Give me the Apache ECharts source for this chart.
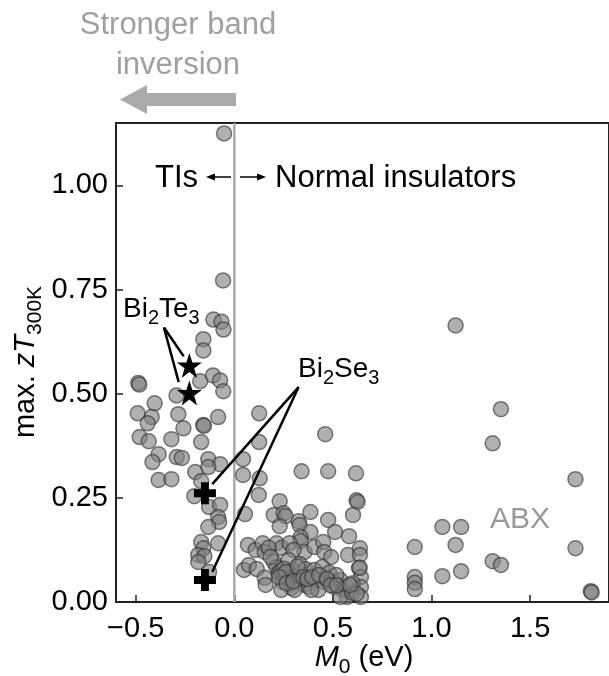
<!DOCTYPE html>
<html><head><meta charset="utf-8">
<script src="https://cdn.jsdelivr.net/npm/echarts@6/dist/echarts.min.js"></script>
<style>html,body{margin:0;padding:0;background:#fff}#c{width:609px;height:676px}</style>
</head><body><div id="c"></div>
<script>
// ---- data ----
const xTicks = [-0.5, 0.0, 0.5, 1.0, 1.5];
const yTicks = [0.00, 0.25, 0.50, 0.75, 1.00];
// topological insulators (M0 < 0)
const tiPoints = [
 [-0.052,1.125],[-0.057,0.772],[-0.106,0.678],[-0.065,0.673],[-0.055,0.654],[-0.157,0.631],[-0.157,0.604],
 [-0.487,0.526],[-0.482,0.522],[-0.173,0.530],[-0.108,0.544],[-0.072,0.532],[-0.056,0.506],[-0.293,0.496],
 [-0.404,0.477],[-0.490,0.453],[-0.419,0.444],[-0.439,0.429],[-0.284,0.451],[-0.082,0.444],[-0.158,0.425],
 [-0.154,0.423],[-0.258,0.417],[-0.480,0.396],[-0.434,0.386],[-0.319,0.391],[-0.168,0.384],[-0.384,0.355],
 [-0.415,0.336],[-0.292,0.348],[-0.266,0.346],[-0.132,0.343],[-0.072,0.331],[-0.132,0.324],[-0.198,0.312],
 [-0.384,0.293],[-0.319,0.295],[-0.168,0.290],[-0.203,0.254],[-0.128,0.228],[-0.072,0.233],[-0.082,0.204],
 [-0.077,0.192],[-0.132,0.180],[-0.168,0.144],[-0.082,0.141],[-0.157,0.129],[-0.183,0.113],[-0.152,0.110],
 [-0.183,0.096],[-0.128,0.072]
];
// normal insulators (M0 > 0)
const niPoints = [
 [0.126,0.453],[0.126,0.384],[0.044,0.343],[0.044,0.305],[0.129,0.297],[0.124,0.257],[0.054,0.211],
 [0.461,0.403],[0.341,0.314],[0.476,0.314],[0.617,0.309],[0.620,0.244],[0.625,0.240],[0.602,0.209],
 [0.230,0.242],[0.200,0.209],[0.250,0.213],[0.260,0.206],[0.230,0.182],[0.326,0.194],[0.331,0.185],
 [0.386,0.216],[0.386,0.168],[0.476,0.197],[0.511,0.168],[0.582,0.158],[0.336,0.156],[0.336,0.146],
 [0.069,0.137],[0.108,0.125],[0.144,0.141],[0.154,0.120],[0.214,0.141],[0.240,0.130],[0.280,0.141],
 [0.356,0.120],[0.406,0.132],[0.451,0.144],[0.456,0.120],[0.491,0.108],[0.577,0.113],[0.637,0.129],
 [0.637,0.113],[0.174,0.130],[0.300,0.125],
 [0.049,0.077],[0.074,0.089],[0.114,0.079],[0.154,0.058],[0.159,0.041],[0.200,0.096],[0.214,0.084],
 [0.225,0.070],[0.245,0.067],[0.255,0.058],[0.245,0.048],[0.270,0.058],[0.285,0.043],[0.295,0.077],
 [0.315,0.065],[0.331,0.091],[0.336,0.055],[0.361,0.079],[0.356,0.041],[0.381,0.036],[0.406,0.077],
 [0.416,0.053],[0.446,0.084],[0.456,0.048],[0.481,0.070],[0.507,0.048],[0.507,0.036],[0.537,0.053],
 [0.552,0.029],[0.572,0.036],[0.572,0.012],[0.537,0.012],[0.597,0.022],[0.632,0.082],[0.642,0.060],
 [0.642,0.036],[0.642,0.012],[0.517,0.065],[0.426,0.029],[0.184,0.108],[0.275,0.101],[0.290,0.034],
 [0.238,0.029],[0.305,0.029],[0.390,0.029],[0.235,0.075],[0.250,0.080],[0.262,0.072],[0.228,0.060],
 [0.265,0.045],[0.300,0.050],[0.320,0.085],[0.350,0.060],[0.370,0.055],[0.395,0.060],[0.430,0.065],
 [0.470,0.055],[0.490,0.040],[0.520,0.040],[0.600,0.045],[0.620,0.020],[0.586,0.041],[0.636,0.082]
];
// ABX compounds region (large M0)
const abxPoints = [
 [0.915,0.132],[0.915,0.060],[0.915,0.046],[0.915,0.031],[1.055,0.062],[1.055,0.180],[1.150,0.180],
 [1.150,0.074],[1.122,0.137],[1.122,0.664],[1.352,0.463],[1.310,0.381],[1.310,0.098],[1.352,0.089],
 [1.730,0.295],[1.730,0.129],[1.808,0.026],[1.812,0.023]
];
const bi2te3Points = [[-0.228,0.568],[-0.228,0.502]];
const bi2se3Points = [[-0.149,0.261],[-0.149,0.053]];
// annotation leader lines (data coords)
const teLeaders = [[[-0.357,0.659],[-0.257,0.590]],[[-0.357,0.659],[-0.282,0.528]]];
const seLeaders = [[[0.326,0.516],[-0.112,0.283]],[[0.326,0.516],[-0.112,0.072]]];
const zeroLine = [[0,0],[0,1.15]];

// ---- chart ----
const FONT = 'Liberation Sans, Arial, Helvetica, sans-serif';
const chart = echarts.init(document.getElementById('c'), null, {renderer:'canvas'});
const starPath = 'path://M50,0 L61.8,35.4 L99,35.4 L68.8,57.3 L80.3,92.7 L50,70.8 L19.7,92.7 L31.2,57.3 L1,35.4 L38.2,35.4 Z';
const plusPath = 'path://M32,0 H68 V32 H100 V68 H68 V100 H32 V68 H0 V32 H32 Z';
const dotStyle = {color:'rgba(128,128,128,0.62)', borderColor:'rgba(45,45,45,0.6)', borderWidth:1.5, opacity:1};
function fmt(v, d){ const s = Math.abs(v).toFixed(d); return v < 0 ? '\u2212' + s : s; }
const leaderSeries = teLeaders.concat(seLeaders).map(seg => ({
  type:'line', data:seg, symbol:'none', silent:true, z:3,
  lineStyle:{color:'#000', width:2.5}, animation:false
}));
chart.setOption({
  animation:false,
  grid:{left:116, top:123, width:497, height:479, show:true, borderColor:'#222', borderWidth:2, backgroundColor:'transparent'},
  xAxis:{type:'value', min:-0.6, max:1.9,
    axisLine:{show:true, onZero:false, lineStyle:{color:'#222', width:2}},
    splitLine:{show:false},
    axisTick:{show:true, inside:true, length:7, customValues:xTicks, lineStyle:{color:'#222', width:1.5}},
    axisLabel:{customValues:xTicks, formatter:v=>fmt(v,1), fontSize:29, color:'#000', fontFamily:FONT, margin:12}
  },
  yAxis:{type:'value', min:0, max:1.15,
    axisLine:{show:true, onZero:false, lineStyle:{color:'#222', width:2}},
    splitLine:{show:false},
    axisTick:{show:true, inside:true, length:7, customValues:yTicks, lineStyle:{color:'#222', width:1.5}},
    axisLabel:{customValues:yTicks, formatter:v=>fmt(v,2), fontSize:29, color:'#000', fontFamily:FONT, margin:8}
  },
  series:[
    {type:'line', data:zeroLine, symbol:'none', silent:true, z:1, lineStyle:{color:'#aaa', width:2.5}},
    {type:'scatter', data:tiPoints, symbol:'circle', symbolSize:15, itemStyle:dotStyle, z:2},
    {type:'scatter', data:niPoints, symbol:'circle', symbolSize:15, itemStyle:dotStyle, z:2},
    {type:'scatter', data:abxPoints, symbol:'circle', symbolSize:15, itemStyle:dotStyle, z:2},
    ...leaderSeries,
    {type:'scatter', data:bi2te3Points, symbol:starPath, symbolSize:25, itemStyle:{color:'#000', opacity:1}, z:5},
    {type:'scatter', data:bi2se3Points, symbol:plusPath, symbolSize:22, itemStyle:{color:'#000', opacity:1}, z:5}
  ],
  graphic:[
    {type:'text', x:178, y:25, style:{text:'Stronger band', font:'31px '+FONT, fill:'#a0a0a0', align:'center', verticalAlign:'middle'}},
    {type:'text', x:178, y:65, style:{text:'inversion', font:'31px '+FONT, fill:'#a0a0a0', align:'center', verticalAlign:'middle'}},
    {type:'polygon', shape:{points:[[120,99.5],[147,85],[147,93],[236,93],[236,106],[147,106],[147,114]]}, style:{fill:'#aaa'}},
    {type:'text', x:155, y:178, style:{text:'TIs', font:'31px '+FONT, fill:'#000', align:'left', verticalAlign:'middle'}},
    {type:'line', shape:{x1:231, y1:177, x2:211, y2:177}, style:{stroke:'#000', lineWidth:1.5}},
    {type:'polygon', shape:{points:[[206,177],[215,173.5],[215,180.5]]}, style:{fill:'#000'}},
    {type:'line', shape:{x1:240, y1:177, x2:261, y2:177}, style:{stroke:'#000', lineWidth:1.5}},
    {type:'polygon', shape:{points:[[266,177],[257,173.5],[257,180.5]]}, style:{fill:'#000'}},
    {type:'text', x:275, y:178, style:{text:'Normal insulators', font:'31px '+FONT, fill:'#000', align:'left', verticalAlign:'middle'}},
    {type:'text', x:490, y:520, style:{text:'ABX', font:'30px '+FONT, fill:'#999', align:'left', verticalAlign:'middle'}},
    {type:'text', x:123, y:309, style:{text:'{n|Bi}{s|2}{n|Te}{s|3}', align:'left', verticalAlign:'middle',
      rich:{n:{fontSize:28, fontFamily:FONT, color:'#000'}, s:{fontSize:20, fontFamily:FONT, color:'#000', padding:[18,0,0,0]}}}},
    {type:'text', x:298, y:369, style:{text:'{n|Bi}{s|2}{n|Se}{s|3}', align:'left', verticalAlign:'middle',
      rich:{n:{fontSize:28, fontFamily:FONT, color:'#000'}, s:{fontSize:20, fontFamily:FONT, color:'#000', padding:[18,0,0,0]}}}},
    {type:'text', x:26, y:362, rotation:Math.PI/2, style:{text:'{n|max. }{i|zT}{s|300K}', align:'center', verticalAlign:'middle',
      rich:{n:{fontSize:29, fontFamily:FONT, color:'#000'}, i:{fontSize:29, fontFamily:FONT, fontStyle:'italic', color:'#000'}, s:{fontSize:21, fontFamily:FONT, color:'#000', padding:[18,0,0,0]}}}},
    {type:'text', x:364, y:658, style:{text:'{i|M}{s|0}{n| (eV)}', align:'center', verticalAlign:'middle',
      rich:{n:{fontSize:29, fontFamily:FONT, color:'#000'}, i:{fontSize:29, fontFamily:FONT, fontStyle:'italic', color:'#000'}, s:{fontSize:21, fontFamily:FONT, color:'#000', padding:[18,0,0,0]}}}}
  ]
});
</script></body></html>
